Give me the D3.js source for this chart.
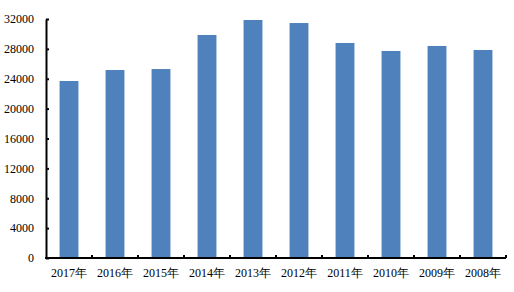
<!DOCTYPE html>
<html>
<head>
<meta charset="utf-8">
<script src="https://cdn.jsdelivr.net/npm/d3@7/dist/d3.min.js"></script>
<style>
  body { margin: 0; background: #fff; }
  text { font-family: "Liberation Serif", "Times New Roman", serif; font-size: 12px; fill: #000; }
</style>
</head>
<body>
<svg id="chart" width="514" height="292"></svg>
<script>
// 数据
var years = ["2017年", "2016年", "2015年", "2014年", "2013年", "2012年", "2011年", "2010年", "2009年", "2008年"];
var values = [23700, 25170, 25300, 29860, 31870, 31460, 28790, 27720, 28390, 27850];
var yTicks = [0, 4000, 8000, 12000, 16000, 20000, 24000, 28000, 32000];

var svg = d3.select("#chart"),
    margin = {left: 46, right: 8, top: 19, bottom: 34},
    width = +svg.attr("width") - margin.left - margin.right,
    height = +svg.attr("height") - margin.top - margin.bottom;

var g = svg.append("g").attr("transform", "translate(" + margin.left + "," + margin.top + ")");

var x = d3.scaleBand().domain(years).range([0, width]).paddingInner(0.59).paddingOuter(0.295);
var y = d3.scaleLinear().domain([0, 32000]).range([height, 0]);

// 柱子
g.selectAll("rect.bar")
  .data(values)
  .enter().append("rect")
  .attr("class", "bar")
  .attr("x", function(d, i) { return x(years[i]); })
  .attr("y", function(d) { return y(d); })
  .attr("width", x.bandwidth())
  .attr("height", function(d) { return height - y(d); })
  .attr("fill", "#4F81BD");

// y 轴
var yAxis = g.append("g")
  .call(d3.axisLeft(y).tickValues(yTicks).tickSizeInner(-3).tickSizeOuter(0).tickPadding(12).tickFormat(d3.format("d")));
yAxis.select(".domain").attr("stroke", "#000").attr("stroke-width", 2);
yAxis.selectAll(".tick line").attr("stroke", "#000").attr("stroke-width", 2);

// x 轴, 刻度在类别之间
var bounds = d3.range(years.length + 1).map(function(i) { return i * width / years.length; });
var xAxis = g.append("g").attr("transform", "translate(0," + height + ")");
xAxis.append("line")
  .attr("x1", -1).attr("x2", width)
  .attr("stroke", "#000").attr("stroke-width", 2);
xAxis.selectAll("line.tk")
  .data(bounds.slice(1))
  .enter().append("line")
  .attr("class", "tk")
  .attr("x1", function(d) { return d; }).attr("x2", function(d) { return d; })
  .attr("y1", 0).attr("y2", -3)
  .attr("stroke", "#000").attr("stroke-width", 2);
xAxis.selectAll("text")
  .data(years)
  .enter().append("text")
  .attr("x", function(d) { return x(d) + x.bandwidth() / 2; })
  .attr("y", 19)
  .attr("text-anchor", "middle")
  .text(function(d) { return d; });
</script>
</body>
</html>
